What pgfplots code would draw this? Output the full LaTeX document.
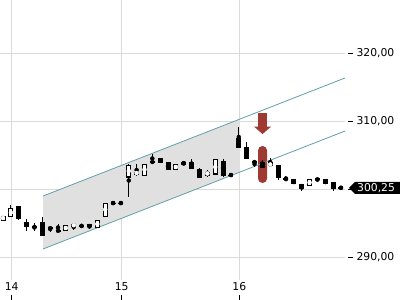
\documentclass[border=0pt]{standalone}
\usepackage{fontspec}
\setmainfont{DejaVu Sans}
\usepackage{pgfplots}
\pgfplotsset{compat=1.18}
\usepackage{pgfplotstable}
\definecolor{gridc}{RGB}{218,218,218}
\definecolor{chfill}{RGB}{224,224,224}
\definecolor{chline}{RGB}{96,160,168}
\definecolor{redc}{RGB}{158,58,50}
\pgfplotstableread{
k O H L C
0 295.51 296.15 295.45 296.10
1 295.96 297.72 295.96 297.28
2 297.43 297.57 295.51 295.81
3 295.22 295.66 293.90 294.63
4 294.49 295.07 293.90 294.34
5 295.22 295.96 293.31 293.31
6 294.34 294.63 293.75 294.30
7 293.92 294.93 293.90 293.92
8 293.90 294.78 293.90 294.78
9 294.60 294.93 294.04 294.90
10 294.60 294.93 294.34 294.70
11 294.78 294.93 294.19 294.49
12 294.34 295.51 294.34 295.51
13 296.10 298.01 296.10 298.01
14 298.01 298.01 298.01 298.01
15 298.01 298.01 298.01 298.01
16 301.84 303.75 298.90 303.60
17 302.28 303.75 301.99 302.57
18 302.13 303.75 302.13 303.75
19 304.19 305.22 303.90 303.90
20 304.63 304.70 303.85 303.90
21 303.90 304.04 302.87 302.87
22 302.87 303.75 302.87 303.75
23 304.04 304.04 303.60 303.75
24 303.90 304.49 303.16 303.16
25 302.87 303.16 301.84 301.84
26 302.13 302.87 301.84 302.57
27 302.28 304.49 302.28 304.34
28 304.19 304.49 301.84 302.13
29 302.13 302.13 302.13 302.13
30 307.43 309.19 306.25 306.25
31 306.25 306.99 304.63 304.63
32 304.19 304.19 303.31 303.90
33 303.90 304.34 303.31 303.31
34 303.46 304.63 303.46 303.90
35 303.46 303.46 301.40 301.84
36 301.55 301.99 301.25 301.50
37 301.40 301.40 300.81 300.81
38 300.81 300.81 299.78 300.22
39 300.66 301.40 300.66 301.40
40 301.55 301.69 301.25 301.40
41 301.40 301.40 300.81 300.81
42 300.96 300.96 299.78 300.22
43 300.25 300.25 300.25 300.25
}\candles
\begin{document}
\begin{tikzpicture}
\fill[white] (0,0) rectangle (400bp,-300bp);
\path[use as bounding box] (0,0) rectangle (400bp,-300bp);
\begin{axis}[
  at={(0,0)}, anchor=north west,
  scale only axis, width=345bp, height=280bp,
  xmin=-0.382, xmax=43.51, ymin=286.69, ymax=327.87,
  axis line style={draw=none},
  xtick={1.107,15.10,30.06}, xticklabels={14,15,16},
  ytick={290,300,310,320},
  xtick pos=bottom, ytick pos=right,
  tick align=outside, major tick length=5bp,
  xtick style={black, line width=0.8bp, yshift=-15bp},
  ytick style={black, line width=0.8bp, xshift=3bp},
  grid=major, major grid style={gridc, line width=0.8bp},
  every tick label/.append style={font=\fontsize{10.8bp}{13bp}\selectfont},
  yticklabel style={anchor=west, xshift=3bp},
  xticklabel style={anchor=center, yshift=-1.5bp},
  clip mode=individual,
  unbounded coords=discard,
  /pgf/number format/.cd, fixed, fixed zerofill, precision=2, use comma, 1000 sep={}, assume math mode=true,
]
% channel fill
\addplot[fill=chfill, draw=none] coordinates {(5.09,299.04) (30.15,310.36) (30.15,302.57) (5.09,291.25)} -- cycle;
% red markers
\fill[redc] ([xshift=-4.5bp]axis cs:33.02,311.25) rectangle ([xshift=4.5bp]axis cs:33.02,309.15);
\fill[redc] ([xshift=-8.5bp]axis cs:33.02,309.25) -- ([xshift=8.5bp]axis cs:33.02,309.25) -- (axis cs:33.02,308.16) -- cycle;
\fill[redc, rounded corners=4.4bp] ([xshift=-4.5bp]axis cs:33.02,306.4) rectangle ([xshift=4.5bp]axis cs:33.02,300.96);
% channel lines
\addplot[chline, line width=0.8bp] coordinates {(5.09,299.04) (43.51,316.40)};
\addplot[chline, line width=0.8bp] coordinates {(5.09,291.25) (43.51,308.60)};
% wicks
\addplot[black, only marks, mark=none, error bars/.cd, y dir=both, y explicit, error mark=none,
  error bar style={line width=1bp, black}]
  table[x=k, y expr={(\thisrow{H}+\thisrow{L})/2}, y error expr={(\thisrow{H}-\thisrow{L})/2}] {\candles};
% bodies (outline / filled)
\addplot[black, only marks, mark=none, error bars/.cd, y dir=both, y explicit, error mark=none,
  error bar style={line width=5bp, black}]
  table[x=k, y expr={(\thisrow{O}+\thisrow{C})/2}, y error expr={abs(\thisrow{C}-\thisrow{O})/2+0.074}] {\candles};
% hollow interiors of rising candles only
\addplot[white, only marks, mark=none, restrict expr to domain={\thisrow{C}-\thisrow{O}}{0.2:100},
  error bars/.cd, y dir=both, y explicit, error mark=none,
  error bar style={line width=3bp, white}]
  table[x=k, y expr={(\thisrow{O}+\thisrow{C})/2}, y error expr={(\thisrow{C}-\thisrow{O})/2-0.074}] {\candles};
\coordinate (lp) at (axis cs:43.51,300.25);
\end{axis}
% last price label (drawn over the 300,00 tick label)
\fill[black] ([xshift=4bp]lp) -- ([xshift=10bp,yshift=6bp]lp) -- ([xshift=56bp,yshift=6bp]lp) -- ([xshift=56bp,yshift=-6bp]lp) -- ([xshift=10bp,yshift=-6bp]lp) -- cycle;
\node[white, anchor=west, inner sep=0pt, font=\fontsize{10.8bp}{13bp}\selectfont] at ([xshift=12bp]lp) {300,25};
\end{tikzpicture}
\end{document}
